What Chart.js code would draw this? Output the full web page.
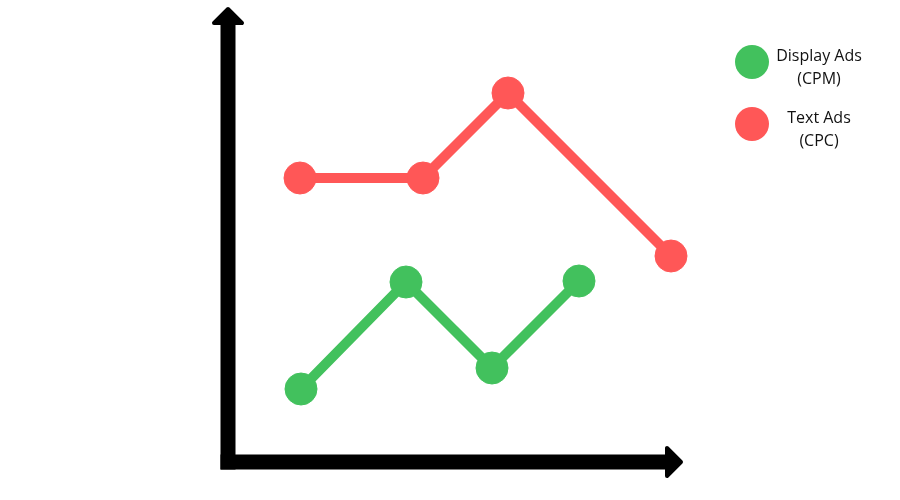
<!DOCTYPE html>
<html>
<head>
<meta charset="utf-8">
<script src="https://cdn.jsdelivr.net/npm/chart.js@4.4.1/dist/chart.umd.min.js"></script>
<style>
  html, body { margin: 0; padding: 0; background: #fff; }
  canvas { display: block; }
</style>
</head>
<body>
<canvas id="chart" width="900" height="500"></canvas>
<script>
// Series values (axis units, origin at the corner of the black axes)
const displayX = [7.3, 17.8, 26.4, 35.1];
const displayY = [7.3, 18.0, 9.4, 18.1];
const textX = [7.2, 19.5, 28.0, 44.3];
const textY = [28.4, 28.4, 36.9, 20.6];

const seriesNames = ['Display Ads', 'Text Ads'];
const seriesSubNames = ['(CPM)', '(CPC)'];
const seriesColors = ['#42c15d', '#ff5757'];

// where the axis arrows end
const axisMax = 45.5;

function toPoints(xs, ys) {
  return xs.map((x, i) => ({ x: x, y: ys[i] }));
}

// Thick black axes with arrow heads
const arrowAxes = {
  id: 'arrowAxes',
  beforeDatasetsDraw(chart) {
    const ctx = chart.ctx;
    const xs = chart.scales.x;
    const ys = chart.scales.y;
    const x0 = xs.getPixelForValue(0);
    const y0 = ys.getPixelForValue(0);
    const yTip = ys.getPixelForValue(axisMax);
    const xTip = xs.getPixelForValue(axisMax);
    const half = 7.5;

    ctx.save();
    ctx.fillStyle = '#000';
    ctx.strokeStyle = '#000';
    ctx.lineWidth = 4;
    ctx.lineJoin = 'round';

    // vertical shaft
    ctx.fillRect(x0 - half, yTip + 16, half * 2, y0 + half - (yTip + 16));
    // horizontal shaft
    ctx.fillRect(x0 - half, y0 - half, xTip - 16 - (x0 - half), half * 2);

    // up arrow head
    ctx.beginPath();
    ctx.moveTo(x0, yTip + 2);
    ctx.lineTo(x0 + 14, yTip + 16);
    ctx.lineTo(x0 - 14, yTip + 16);
    ctx.closePath();
    ctx.fill();
    ctx.stroke();

    // right arrow head
    ctx.beginPath();
    ctx.moveTo(xTip - 2, y0);
    ctx.lineTo(xTip - 16, y0 - 14);
    ctx.lineTo(xTip - 16, y0 + 14);
    ctx.closePath();
    ctx.fill();
    ctx.stroke();
    ctx.restore();
  }
};

// Legend on the right: dot + two centred text lines
const sideLegend = {
  id: 'sideLegend',
  afterDraw(chart) {
    const ctx = chart.ctx;
    ctx.save();
    ctx.font = '16px "Open Sans", sans-serif';
    ctx.textAlign = 'center';
    ctx.textBaseline = 'alphabetic';
    seriesNames.forEach((name, i) => {
      const cy = 62 + i * 62;
      ctx.fillStyle = seriesColors[i];
      ctx.beginPath();
      ctx.arc(752, cy, 17, 0, Math.PI * 2);
      ctx.fill();
      ctx.fillStyle = '#111';
      ctx.fillText(name, 819, cy - 1);
      ctx.fillText(seriesSubNames[i], 819, cy + 22);
    });
    ctx.restore();
  }
};

const lineStyle = (color) => ({
  borderColor: color,
  backgroundColor: color,
  pointBackgroundColor: color,
  pointBorderColor: color,
  borderWidth: 10,
  pointRadius: 16,
  pointBorderWidth: 1,
  pointHoverRadius: 16,
  tension: 0,
  fill: false
});

new Chart(document.getElementById('chart'), {
  type: 'line',
  data: {
    datasets: [
      Object.assign({ label: seriesNames[1], data: toPoints(textX, textY) }, lineStyle(seriesColors[1])),
      Object.assign({ label: seriesNames[0], data: toPoints(displayX, displayY) }, lineStyle(seriesColors[0]))
    ]
  },
  options: {
    responsive: false,
    animation: false,
    layout: { padding: 0, autoPadding: false },
    plugins: {
      legend: { display: false },
      tooltip: { enabled: false }
    },
    scales: {
      x: { type: 'linear', min: -22.8, max: 67.2, display: false },
      y: { type: 'linear', min: -3.8, max: 46.2, display: false }
    }
  },
  plugins: [arrowAxes, sideLegend]
});
</script>
</body>
</html>
